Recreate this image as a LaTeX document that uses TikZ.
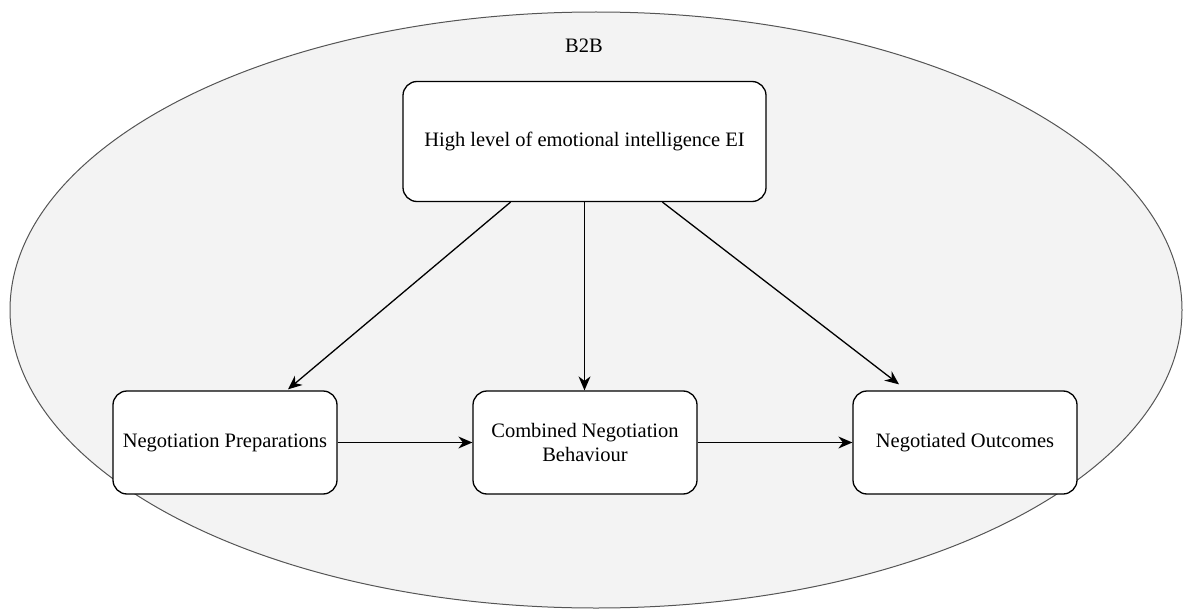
\documentclass[tikz,border=0pt]{standalone}
\usepackage{fontspec}
\newfontfamily\timesf{LiberationSerif}[Extension=.ttf, UprightFont=*-Regular]
\usetikzlibrary{arrows.meta}
\definecolor{bgfill}{HTML}{F3F3F3}
\definecolor{bgline}{HTML}{555555}
\begin{document}
\begin{tikzpicture}[x=1pt,y=-1pt,
  txt/.style={font=\timesf\fontsize{20.5}{24}\selectfont},
  box/.style={txt, draw=black, fill=white, rounded corners=14pt, line width=1.3pt,
    align=center, inner sep=0pt},
  arr/.style={-{Stealth[length=14pt,width=12pt]}, line width=1.3pt}]
\useasboundingbox (0,0) rectangle (1187,610);
\draw[draw=bgline, fill=bgfill, line width=1pt] (596,310) ellipse [x radius=586, y radius=298];
\node[txt] (lbl) at (584,46) {B2B};
\node[box, minimum width=363pt, minimum height=120pt] (top) at (584.5,141.5) {High level of emotional intelligence EI};
\node[box, minimum width=224pt, minimum height=103pt] (left) at (225,442.5) {Negotiation Preparations};
\node[box, minimum width=224pt, minimum height=103pt] (mid) at (585,442.5) {Combined Negotiation\\Behaviour};
\node[box, minimum width=224pt, minimum height=103pt] (right) at (965,442.5) {Negotiated Outcomes};
\draw[arr] ([xshift=-74pt]top.south) -- ([xshift=63pt,yshift=1pt]left.north);
\draw[arr] (top.south) -- (top.south |- mid.north);
\draw[arr] ([xshift=78pt]top.south) -- ([xshift=-66pt,yshift=6pt]right.north);
\draw[arr] (left.east) -- (mid.west);
\draw[arr] (mid.east) -- (right.west);
\end{tikzpicture}
\end{document}
